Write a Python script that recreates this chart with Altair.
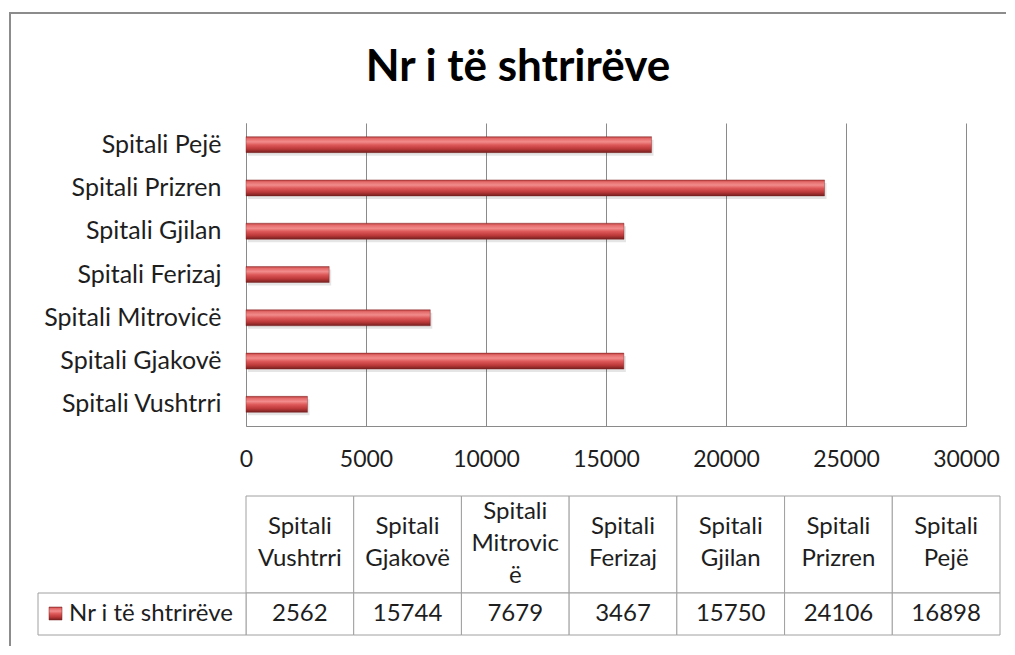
import altair as alt
import pandas as pd

# ---------------- data ----------------
categories = [
    "Spitali Vushtrri",
    "Spitali Gjakovë",
    "Spitali Mitrovicë",
    "Spitali Ferizaj",
    "Spitali Gjilan",
    "Spitali Prizren",
    "Spitali Pejë",
]
values = [2562, 15744, 7679, 3467, 15750, 24106, 16898]
header_labels = [
    "Spitali\nVushtrri",
    "Spitali\nGjakovë",
    "Spitali\nMitrovic\në",
    "Spitali\nFerizaj",
    "Spitali\nGjilan",
    "Spitali\nPrizren",
    "Spitali\nPejë",
]
series_name = "Nr i të shtrirëve"
x_ticks = [0, 5000, 10000, 15000, 20000, 25000, 30000]

df = pd.DataFrame({
    "hospital": categories,
    "count": values,
    "header": header_labels,
    "value_text": [str(v) for v in values],
})
one = pd.DataFrame({"k": [0]})

FONT = "Lato"
TXT = "#1e1e1e"
GRID = "#8a8a8a"
TBL = "#a0a0a0"
FRAME = "#8c8c8c"

bar_fill = alt.Gradient(
    gradient="linear", x1=0, x2=0, y1=0, y2=1,
    stops=[
        alt.GradientStop(color="#b33838", offset=0),
        alt.GradientStop(color="#e46a6a", offset=0.12),
        alt.GradientStop(color="#f28c8c", offset=0.32),
        alt.GradientStop(color="#dd5858", offset=0.52),
        alt.GradientStop(color="#bd3a3a", offset=0.76),
        alt.GradientStop(color="#761f1f", offset=1),
    ],
)

PW, PH = 720, 303

x_enc = alt.X(
    "count:Q",
    scale=alt.Scale(domain=[0, 30000], nice=False),
    axis=alt.Axis(
        values=x_ticks, title=None, grid=True, gridColor=GRID, ticks=False,
        domainColor=GRID, labelFontSize=23, labelFont=FONT, labelColor=TXT,
        labelPadding=22, labelFlush=False, format="d",
    ),
)
y_enc = alt.Y(
    "hospital:N",
    sort=categories[::-1],
    scale=alt.Scale(paddingInner=0.63, paddingOuter=0.315),
    axis=alt.Axis(
        title=None, ticks=False, labelFontSize=25, labelFont=FONT,
        labelColor=TXT, labelPadding=25, domainColor=GRID, labelLimit=300,
    ),
)

shadow = alt.Chart(df).mark_bar(color="#000000", opacity=0.10, yOffset=3, xOffset=2).encode(
    x=x_enc, y=y_enc
)
bars = alt.Chart(df).mark_bar(fill=bar_fill, stroke="#7a2222", strokeWidth=0.4).encode(
    x=x_enc, y=y_enc
)

# outer chart frame (top and left edges; the others fall outside the picture)
frame_top = alt.Chart(one).mark_rule(color=FRAME, strokeWidth=2, strokeCap="square").encode(
    x=alt.value(-236), x2=alt.value(759), y=alt.value(-110)
)
frame_left = alt.Chart(one).mark_rule(color=FRAME, strokeWidth=2, strokeCap="square").encode(
    x=alt.value(-236), y=alt.value(-110), y2=alt.value(522)
)
title_txt = alt.Chart(one).mark_text(
    text=series_name, font=FONT, fontSize=44, fontWeight="bold", color="#000000",
    align="center", baseline="alphabetic",
).encode(x=alt.value(272), y=alt.value(-42))

top = alt.layer(frame_top, frame_left, title_txt, shadow, bars).properties(
    width=PW, height=PH
)

# ---------------- data table ----------------
TW, TH = 754, 139
HDR = 97

xt = alt.X("hospital:N", sort=categories, axis=None,
           scale=alt.Scale(paddingInner=0, paddingOuter=0))

hdr_cells = alt.Chart(df).mark_rect(fill="white", stroke=TBL, strokeWidth=1).encode(
    x=xt, y=alt.value(0), y2=alt.value(HDR)
)
val_cells = alt.Chart(df).mark_rect(fill="white", stroke=TBL, strokeWidth=1).encode(
    x=xt, y=alt.value(HDR), y2=alt.value(TH)
)
hdr_base = alt.Chart(df).transform_calculate(
    nlines="length(split(datum.header, '\\n'))"
).mark_text(
    lineBreak="\n", fontSize=24, font=FONT, color=TXT, lineHeight=32,
    baseline="middle", align="center",
)
hdr_text2 = hdr_base.transform_filter("datum.nlines == 2").encode(
    x=xt, y=alt.value(31), text="header:N"
)
hdr_text3 = hdr_base.transform_filter("datum.nlines == 3").encode(
    x=xt, y=alt.value(16), text="header:N"
)
val_text = alt.Chart(df).mark_text(
    fontSize=24, font=FONT, color=TXT, baseline="middle", align="center",
).encode(x=xt, y=alt.value(118), text="value_text:N")

leg_cell = alt.Chart(one).mark_rect(fill="white", stroke=TBL, strokeWidth=1).encode(
    x=alt.value(-208), x2=alt.value(0), y=alt.value(HDR), y2=alt.value(TH)
)
leg_swatch = alt.Chart(one).mark_rect(fill=bar_fill, stroke="#7a2222", strokeWidth=0.5).encode(
    x=alt.value(-197), x2=alt.value(-184), y=alt.value(111), y2=alt.value(124)
)
leg_text = alt.Chart(one).mark_text(
    text=series_name, fontSize=24, font=FONT, color=TXT, align="left", baseline="middle",
).encode(x=alt.value(-177), y=alt.value(118))

table = alt.layer(
    hdr_cells, val_cells, leg_cell, hdr_text2, hdr_text3, val_text,
    leg_swatch, leg_text
).properties(width=TW, height=TH)

chart = alt.vconcat(top, table, spacing=70, bounds="flush").properties(
    padding={"left": 0, "top": 3, "right": 0, "bottom": 0}
).resolve_scale(x="independent", y="independent").configure_view(stroke=None)

chart.save("out.html", embed_options={"renderer": "svg", "actions": False})
